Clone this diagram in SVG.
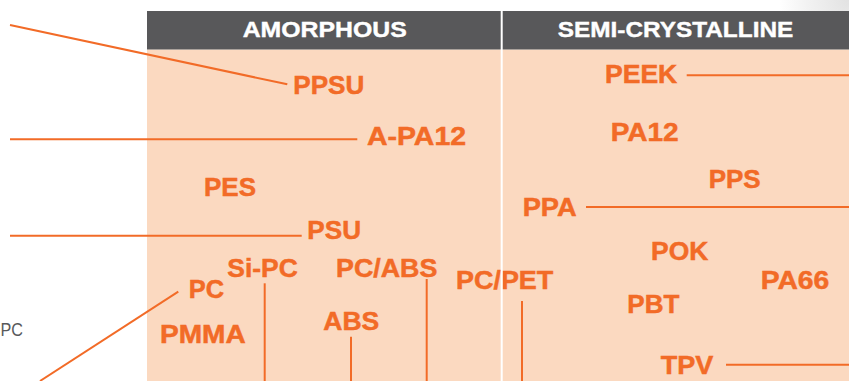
<svg xmlns="http://www.w3.org/2000/svg" width="849" height="381" viewBox="0 0 849 381">
  <defs>
    <radialGradient id="corner" cx="849" cy="0" r="70" gradientUnits="userSpaceOnUse">
      <stop offset="0" stop-color="#e2e2e2"/>
      <stop offset="0.6" stop-color="#f2f2f2"/>
      <stop offset="1" stop-color="#ffffff"/>
    </radialGradient>
  </defs>
  <style>
    .lbl { font-family: "Liberation Sans", Arial, sans-serif; font-weight: bold; font-size: 26px; fill: #f26b27; stroke: #f26b27; stroke-width: 0.5px; }
    .hdr { font-family: "Liberation Sans", Arial, sans-serif; font-weight: bold; font-size: 22px; fill: #ffffff; stroke: #ffffff; stroke-width: 0.4px; }
    .side { font-family: "Liberation Sans", Arial, sans-serif; font-size: 18.5px; fill: #58595b; }
    .ln { stroke: #f26b27; stroke-width: 2; fill: none; }
  </style>
  <rect x="0" y="0" width="849" height="381" fill="#ffffff"/>
  <rect x="760" y="0" width="89" height="11" fill="url(#corner)"/>
  <g id="background">
    <rect x="147" y="49.5" width="702" height="331.5" fill="#fbd9c0"/>
    <rect x="147" y="11" width="702" height="38.5" fill="#58585a"/>
  </g>
  <g id="headers">
    <text class="hdr" x="242.7" y="37.3" textLength="164" lengthAdjust="spacingAndGlyphs">AMORPHOUS</text>
    <text class="hdr" x="557.7" y="36.7" textLength="235.6" lengthAdjust="spacingAndGlyphs">SEMI-CRYSTALLINE</text>
  </g>
  <text class="side" x="0.5" y="335.5" textLength="22.5" lengthAdjust="spacingAndGlyphs">PC</text>
  <g id="connectors">
    <line class="ln" x1="10" y1="25" x2="287.3" y2="84.3"/>
    <line class="ln" x1="10" y1="139.3" x2="357.3" y2="139.3"/>
    <line class="ln" x1="10" y1="235.7" x2="301.7" y2="235.7"/>
    <line class="ln" x1="178.3" y1="291.7" x2="40" y2="381"/>
    <line class="ln" x1="264.7" y1="283.3" x2="264.7" y2="381"/>
    <line class="ln" x1="351" y1="336.7" x2="351" y2="381"/>
    <line class="ln" x1="426.7" y1="279" x2="426.7" y2="381"/>
    <line class="ln" x1="522" y1="301" x2="522" y2="381"/>
    <line class="ln" x1="686.7" y1="75.3" x2="849" y2="75.3"/>
    <line class="ln" x1="586" y1="207" x2="849" y2="207"/>
    <line class="ln" x1="726" y1="364.7" x2="849" y2="364.7"/>
  </g>
  <g id="node-ppsu"><text class="lbl" x="293.3" y="94" textLength="71" lengthAdjust="spacingAndGlyphs">PPSU</text></g>
  <g id="node-apa12"><text class="lbl" x="367" y="144.5" textLength="99" lengthAdjust="spacingAndGlyphs">A-PA12</text></g>
  <g id="node-pes"><text class="lbl" x="204" y="196" textLength="52" lengthAdjust="spacingAndGlyphs">PES</text></g>
  <g id="node-psu"><text class="lbl" x="307.3" y="239.3" textLength="53.7" lengthAdjust="spacingAndGlyphs">PSU</text></g>
  <g id="node-sipc"><text class="lbl" x="227.3" y="276.7" textLength="70.4" lengthAdjust="spacingAndGlyphs">Si-PC</text></g>
  <g id="node-pcabs"><text class="lbl" x="336" y="276.7" textLength="101.3" lengthAdjust="spacingAndGlyphs">PC/ABS</text></g>
  <g id="node-pc"><text class="lbl" x="188.7" y="298.3" textLength="35.3" lengthAdjust="spacingAndGlyphs">PC</text></g>
  <g id="node-pmma"><text class="lbl" x="160" y="343.3" textLength="85.7" lengthAdjust="spacingAndGlyphs">PMMA</text></g>
  <g id="node-abs"><text class="lbl" x="323.3" y="330" textLength="56" lengthAdjust="spacingAndGlyphs">ABS</text></g>
  <g id="node-pcpet"><text class="lbl" x="456" y="289.3" textLength="97.3" lengthAdjust="spacingAndGlyphs">PC/PET</text></g>
  <g id="node-peek"><text class="lbl" x="605" y="83.3" textLength="72.3" lengthAdjust="spacingAndGlyphs">PEEK</text></g>
  <g id="node-pa12"><text class="lbl" x="610.7" y="140.7" textLength="68" lengthAdjust="spacingAndGlyphs">PA12</text></g>
  <g id="node-pps"><text class="lbl" x="708.7" y="188.3" textLength="52" lengthAdjust="spacingAndGlyphs">PPS</text></g>
  <g id="node-ppa"><text class="lbl" x="522.7" y="215.7" textLength="54" lengthAdjust="spacingAndGlyphs">PPA</text></g>
  <g id="node-pok"><text class="lbl" x="651" y="259.5" textLength="57.3" lengthAdjust="spacingAndGlyphs">POK</text></g>
  <g id="node-pbt"><text class="lbl" x="627.3" y="313.3" textLength="52" lengthAdjust="spacingAndGlyphs">PBT</text></g>
  <g id="node-pa66"><text class="lbl" x="760.7" y="289.3" textLength="68.6" lengthAdjust="spacingAndGlyphs">PA66</text></g>
  <g id="node-tpv"><text class="lbl" x="660.7" y="374" textLength="52.6" lengthAdjust="spacingAndGlyphs">TPV</text></g>
  <rect id="divider" x="500.7" y="11" width="2" height="370" fill="#ffffff"/>
</svg>
